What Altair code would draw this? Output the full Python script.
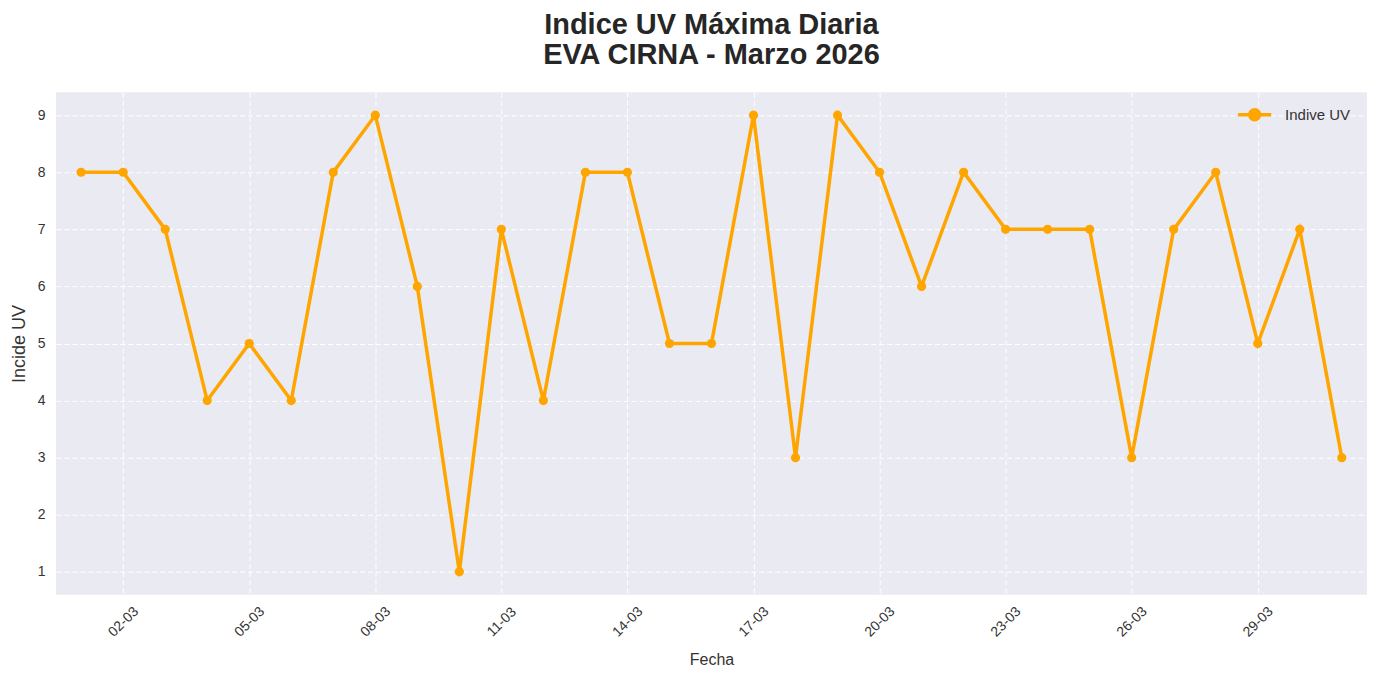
import altair as alt
import pandas as pd

fechas = [f"{d:02d}-03" for d in range(1, 32)]
uv = [8, 8, 7, 4, 5, 4, 8, 9, 6, 1, 7, 4, 8, 8, 5, 5, 9, 3, 9, 8, 6, 8, 7, 7, 7, 3, 7, 8, 5, 7, 3]
tick_dias = [2, 5, 8, 11, 14, 17, 20, 23, 26, 29]
y_ticks = [1, 2, 3, 4, 5, 6, 7, 8, 9]

df = pd.DataFrame({
    "fecha": fechas,
    "dia": [int(f[:2]) for f in fechas],
    "uv": uv,
    "serie": ["Indive UV"] * len(uv),
})

FONT = "Liberation Sans"
ORANGE = "#FFA500"

legend_symbol = "M-1,0H1M0.3,0A0.3,0.3,0,1,1,-0.3,0A0.3,0.3,0,1,1,0.3,0Z"

base = alt.Chart(df).encode(
    x=alt.X(
        "dia:Q",
        title="Fecha",
        scale=alt.Scale(domain=[0.4, 31.6], nice=False, zero=False),
        axis=alt.Axis(
            values=tick_dias,
            labelExpr="(datum.value < 10 ? '0' : '') + datum.value + '-03'",
            labelAngle=315,
            labelAlign="center",
            labelBaseline="middle",
            labelPadding=27,
            ticks=False,
            tickSize=0,
            domain=False,
            grid=True,
            gridColor="white",
            gridDash=[5, 3],
            gridWidth=1,
            labelFontSize=14,
            labelColor="#333333",
            labelFont=FONT,
            labelOverlap=False,
            titleFont=FONT,
            titleFontSize=16,
            titleFontWeight="normal",
            titleColor="#333333",
            titlePadding=12,
        ),
    ),
    y=alt.Y(
        "uv:Q",
        title="Incide UV",
        scale=alt.Scale(domain=[0.6, 9.4], nice=False, zero=False),
        axis=alt.Axis(
            values=y_ticks,
            ticks=False,
            tickSize=0,
            domain=False,
            grid=True,
            gridColor="white",
            gridDash=[5, 3],
            gridWidth=1,
            labelPadding=11,
            labelFontSize=14,
            labelColor="#333333",
            labelFont=FONT,
            titleFont=FONT,
            titleFontSize=18,
            titleFontWeight="normal",
            titleColor="#333333",
            titlePadding=9,
        ),
    ),
    color=alt.Color(
        "serie:N",
        scale=alt.Scale(range=[ORANGE]),
        legend=alt.Legend(
            title=None,
            orient="none",
            legendX=1178,
            legendY=0,
            symbolType=legend_symbol,
            symbolSize=1100,
            symbolStrokeWidth=3.5,
            symbolFillColor=ORANGE,
            symbolStrokeColor=ORANGE,
            labelFont=FONT,
            labelFontSize=15,
            labelColor="#333333",
            labelOffset=12,
            padding=4,
        ),
    ),
)

line = base.mark_line(strokeWidth=3.5)
points = base.mark_point(filled=True, size=85, opacity=1)

chart = (
    (line + points)
    .properties(
        width=1313,
        height=503,
        background="white",
        padding={"left": 48, "top": 84, "right": 0, "bottom": 78},
        autosize=alt.AutoSizeParams(type="none"),
        title=alt.TitleParams(
            text=["Indice UV Máxima Diaria", "EVA CIRNA - Marzo 2026"],
            font=FONT,
            fontSize=29,
            fontWeight="bold",
            color="#262626",
            anchor="middle",
            lineHeight=30,
            offset=22,
        ),
    )
    .configure_view(fill="#EAEAF2", stroke=None)
)

chart.save("out.html", embed_options={"renderer": "svg", "actions": False})
